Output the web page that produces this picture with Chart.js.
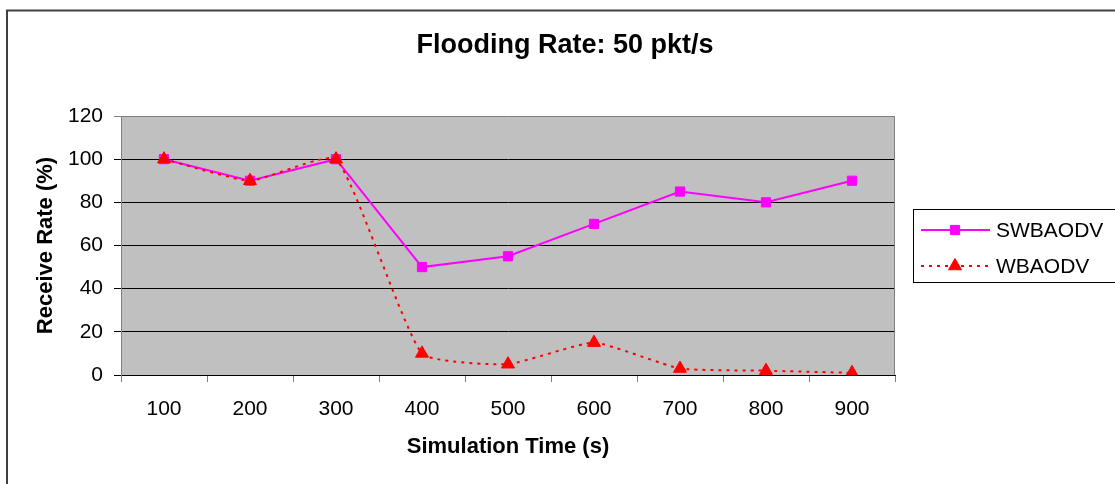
<!DOCTYPE html>
<html>
<head>
<meta charset="utf-8">
<script src="https://cdn.jsdelivr.net/npm/chart.js@4.4.1/dist/chart.umd.min.js"></script>
<style>
  html, body { margin: 0; padding: 0; background: #fff; overflow: hidden; }
  #wrap { width: 1115px; height: 484px; position: relative; }
</style>
</head>
<body>
<div id="wrap"><canvas id="c" width="1115" height="484"></canvas></div>
<script>
const categories = ['100', '200', '300', '400', '500', '600', '700', '800', '900'];
const swbaodv = [100, 90, 100, 50, 55, 70, 85, 80, 90];
const wbaodv = [100, 90, 100, 10, 5, 15, 3, 2, 1];
const seriesNames = ['SWBAODV', 'WBAODV'];
const titleText = 'Flooding Rate: 50 pkt/s';
const xTitle = 'Simulation Time (s)';
const yTitle = 'Receive Rate (%)';

const FONT = '"Liberation Sans", Arial, Helvetica, sans-serif';

const decorPlugin = {
  id: 'decor',
  beforeDraw(chart) {
    const ctx = chart.ctx;
    const a = chart.chartArea;
    ctx.save();
    ctx.fillStyle = '#fff';
    ctx.fillRect(0, 0, chart.width, chart.height);
    ctx.strokeStyle = '#404040';
    ctx.lineWidth = 2;
    ctx.strokeRect(7, 10.5, 2000, 2000);
    ctx.fillStyle = '#C0C0C0';
    ctx.fillRect(a.left, a.top, a.right - a.left, a.bottom - a.top);
    ctx.restore();
  },
  afterDraw(chart) {
    const ctx = chart.ctx;
    const a = chart.chartArea;
    ctx.save();
    ctx.strokeStyle = '#808080';
    ctx.lineWidth = 1;
    ctx.beginPath();
    ctx.moveTo(a.right - 0.5, a.top);
    ctx.lineTo(a.right - 0.5, a.bottom);
    ctx.stroke();
    ctx.fillStyle = '#000';
    ctx.font = 'bold 27px ' + FONT;
    ctx.textAlign = 'center';
    ctx.textBaseline = 'alphabetic';
    ctx.fillText(titleText, 565, 53);
    ctx.strokeStyle = '#000';
    ctx.lineWidth = 1;
    ctx.strokeRect(913.5, 209.5, 400, 73);
    const ys = [230, 266];
    chart.data.datasets.forEach((ds, i) => {
      const y = ys[i];
      ctx.strokeStyle = ds.borderColor;
      ctx.lineWidth = ds.borderWidth;
      ctx.setLineDash(ds.borderDash || []);
      ctx.beginPath();
      ctx.moveTo(921, y);
      ctx.lineTo(990, y);
      ctx.stroke();
      ctx.setLineDash([]);
      ctx.fillStyle = ds.pointBackgroundColor;
      ctx.strokeStyle = ds.pointBorderColor;
      ctx.lineWidth = 1;
      Chart.helpers.drawPoint(ctx, {
        pointStyle: ds.pointStyle,
        radius: ds.pointRadius,
        borderWidth: 1,
        rotation: 0
      }, 955, y);
      ctx.fillStyle = '#000';
      ctx.font = '21px ' + FONT;
      ctx.textAlign = 'left';
      ctx.textBaseline = 'middle';
      ctx.fillText(ds.label, 996, y + 1);
    });
    ctx.restore();
  }
};

const chart = new Chart(document.getElementById('c'), {
  type: 'line',
  data: {
    labels: categories,
    datasets: [
      {
        label: seriesNames[0],
        data: swbaodv,
        borderColor: '#FF00FF',
        backgroundColor: '#FF00FF',
        borderWidth: 2,
        pointStyle: 'rect',
        pointRadius: 6.5,
        pointHoverRadius: 6.5,
        pointBackgroundColor: '#FF00FF',
        pointBorderColor: '#FF00FF',
        pointBorderWidth: 1,
        tension: 0,
        order: 1
      },
      {
        label: seriesNames[1],
        data: wbaodv,
        borderColor: '#FF0000',
        backgroundColor: '#FF0000',
        borderWidth: 2,
        borderDash: [3, 5],
        pointStyle: 'triangle',
        pointRadius: 7.5,
        pointHoverRadius: 7.5,
        pointBackgroundColor: '#FF0000',
        pointBorderColor: '#FF0000',
        pointBorderWidth: 1,
        tension: 0.15,
        order: 0
      }
    ]
  },
  options: {
    responsive: false,
    animation: false,
    devicePixelRatio: 1,
    layout: { padding: { top: 116, right: 220, left: 0, bottom: 0 } },
    plugins: {
      legend: { display: false },
      title: { display: false },
      tooltip: { enabled: false }
    },
    scales: {
      x: {
        type: 'category',
        offset: true,
        afterFit: s => { s.height = 109; },
        grid: {
          offset: true,
          drawOnChartArea: false,
          drawTicks: true,
          tickLength: 7,
          color: '#808080',
          lineWidth: 1
        },
        border: { display: true, color: '#000', width: 1 },
        ticks: {
          color: '#000',
          font: { family: FONT, size: 21 },
          padding: 15,
          maxRotation: 0,
          autoSkip: false
        },
        title: {
          display: true,
          text: xTitle,
          color: '#000',
          font: { family: FONT, size: 22, weight: 'bold' },
          padding: { top: 0, bottom: 24 }
        }
      },
      y: {
        min: 0,
        max: 120,
        afterFit: s => { s.width = 121; },
        ticks: {
          stepSize: 20,
          color: '#000',
          font: { family: FONT, size: 21 },
          padding: 11
        },
        grid: {
          drawTicks: true,
          tickLength: 7,
          color: ctx => (ctx.tick && ctx.tick.value === 120) ? '#808080' : '#000',
          lineWidth: 1
        },
        border: { display: true, color: '#808080', width: 1 },
        title: {
          display: true,
          text: yTitle,
          color: '#000',
          font: { family: FONT, size: 22, weight: 'bold' },
          padding: { top: 33, bottom: 0 }
        }
      }
    }
  },
  plugins: [decorPlugin]
});
</script>
</body>
</html>
